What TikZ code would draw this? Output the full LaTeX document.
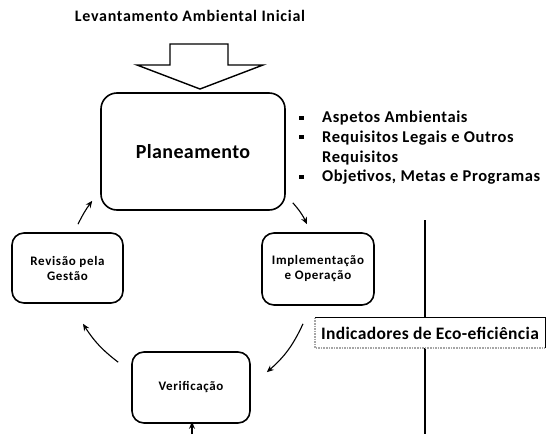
\documentclass[tikz,border=0pt]{standalone}
\usepackage{fontspec}
\setmainfont{Carlito}
\usetikzlibrary{arrows.meta}
\newcommand\myfont[2]{\bfseries\fontsize{#1}{#1}\selectfont\addfontfeatures{LetterSpace=#2}}
\begin{document}
\begin{tikzpicture}[x=1pt,y=-1pt,
  stage/.style={draw=black,line width=1.6pt,rounded corners=12pt,fill=white,align=center,font=\myfont{13}{5},inner sep=0pt},
  flow/.style={-{Stealth[length=7pt,width=6pt]},line width=1.1pt},
  bul/.style={anchor=west,font=\myfont{16.5}{3.5},inner sep=0pt}
]
\useasboundingbox (0,0) rectangle (548,434);
\fill[white] (0,0) rectangle (548,434);
% title
\node[font=\myfont{16}{4.5},inner sep=0pt] (title) at (190,16) {Levantamento Ambiental Inicial};
% block arrow
\draw[line width=1.4pt,fill=white] (170,44) -- (228,44) -- (228,65) -- (263,65) -- (200,89) -- (137,65) -- (170,65) -- cycle;
% main boxes
\node[stage,rounded corners=16pt,minimum width=184pt,minimum height=117pt,font=\myfont{20}{2}] (plan) at (193,151.5) {Planeamento};
\node[stage,minimum width=111pt,minimum height=70pt] (rev) at (67.5,268) {Revisão pela\\[2pt]Gestão};
\node[stage,minimum width=112pt,minimum height=72pt] (impl) at (318,269) {\raisebox{-4pt}{\parbox{112pt}{\centering Implementação\\[2pt]e Operação}}};
\node[stage,minimum width=118pt,minimum height=71pt] (ver) at (191,387.5) {Verificação};
% bullets
\foreach \yy in {118,137,177} \fill (299,\yy-2.3) rectangle (303.6,\yy+2.3);
\node[bul] (b1) at (322,118) {Aspetos Ambientais};
\node[bul] (b2) at (322,138) {Requisitos Legais e Outros};
\node[bul] (b3) at (322,158) {Requisitos};
\node[bul] (b4) at (322,177) {Objetivos, Metas e Programas};
% vertical line
\coordinate (vtop) at (425,220);
\coordinate (vbot) at (425,434);
\draw[line width=1.3pt] (vtop) -- (vbot);
% indicator box
\node[fill=white,minimum width=230pt,minimum height=30pt,inner sep=0pt,font=\myfont{17.5}{2}] (ind) at (430,333) {Indicadores de Eco-eficiência};
\draw[line width=1.3pt] (ind.south east) -- (ind.north east) -- (ind.north west);
\draw[line width=1.6pt,gray!70,densely dotted] (ind.north west) -- (ind.south west) -- (ind.south east);
% cycle arrows
\draw[flow] ([xshift=10.5pt,yshift=8pt]rev.north) to[bend left=5] ([xshift=-8pt,yshift=10pt]plan.south west);
\draw[flow] ([xshift=7pt,yshift=8pt]plan.south east) to[bend left=8] ([xshift=-11pt,yshift=8pt]impl.north);
\draw[flow] ([xshift=-15pt,yshift=-18pt]impl.south) to[bend left=12] ([xshift=16pt,yshift=-21pt]ver.north east);
\draw[flow] ([xshift=-13pt,yshift=-11pt]ver.north west) to[bend left=10] ([xshift=15.5pt,yshift=-20pt]rev.south);
\coordinate (bot) at (192,434);
\draw[flow] (bot) -- ([xshift=1pt,yshift=2pt]ver.south);
\end{tikzpicture}
\end{document}
